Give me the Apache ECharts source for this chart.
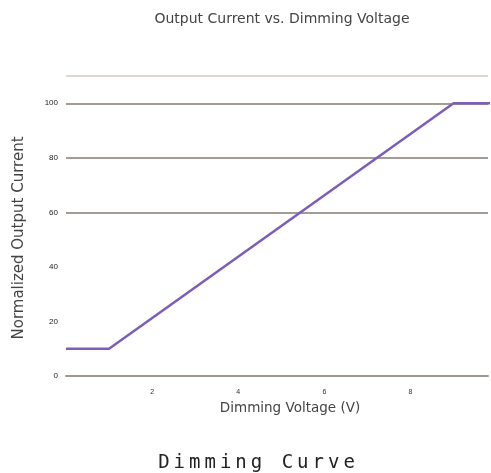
<!DOCTYPE html>
<html><head><meta charset="utf-8">
<script src="https://cdn.jsdelivr.net/npm/echarts@6/dist/echarts.min.js"></script>
<style>
html,body{margin:0;padding:0;background:#fff}
#wrap{position:relative;width:491px;height:473px}
#c{width:491px;height:473px}
#cap{position:absolute;left:0;width:517px;top:449px;text-align:center;font-family:'DejaVu Sans Mono',monospace;font-size:19px;letter-spacing:4px;color:#222;line-height:24px}
</style>
</head><body><div id="wrap"><div id="c"></div><div id="cap"></div></div>
<script>
const voltage = [0, 1, 9, 10];
const current = [10, 10, 100, 100];
const xTickLabels = ['2', '4', '6', '8'];
const yTickLabels = ['0', '20', '40', '60', '80', '100'];
const chartTitle = 'Output Current vs. Dimming Voltage';
const xName = 'Dimming Voltage (V)';
const yName = 'Normalized Output Current';
const caption = 'Dimming Curve';

document.getElementById('cap').textContent = caption;

const chart = echarts.init(document.getElementById('c'));
chart.setOption({
  animation: false,
  title: [
    { text: chartTitle, left: 277, top: 7, textAlign: 'center',
      textStyle: { fontSize: 14, fontWeight: 'normal', color: '#444', fontFamily: 'DejaVu Sans' } }
  ],
  grid: { left: 66, top: 76, right: 3, height: 300 },
  xAxis: {
    type: 'value', min: 0, max: 9.8, interval: 2,
    name: xName, nameLocation: 'middle', nameGap: 25,
    nameTextStyle: { fontSize: 13.5, color: '#444', fontFamily: 'DejaVu Sans', padding: [0, 0, 0, 26] },
    axisLine: { show: true, lineStyle: { color: '#a09890', width: 2 } },
    axisTick: { show: false },
    splitLine: { show: false },
    axisLabel: {
      fontSize: 7, color: '#333', margin: 13,
      formatter: v => (xTickLabels.indexOf(String(v)) >= 0 ? String(v) : '')
    }
  },
  yAxis: {
    type: 'value', min: 0, max: 110, interval: 20,
    name: yName, nameLocation: 'middle', nameGap: 39, nameRotate: 90,
    nameTextStyle: { fontSize: 15, color: '#444', fontFamily: 'DejaVu Sans', padding: [0, 24, 0, 0] },
    axisLine: { show: false },
    axisTick: { show: false },
    axisLabel: {
      fontSize: 8, color: '#222', margin: 8,
      formatter: v => (yTickLabels.indexOf(String(v)) >= 0 ? String(v) : '')
    },
    splitLine: {
      show: true,
      lineStyle: { width: 2, color: ['transparent', 'transparent', 'transparent', '#a39b95', '#a39b95', '#a39b95', '#ddd8d0'] }
    }
  },
  series: [{
    type: 'line',
    data: voltage.map((v, i) => [v, current[i]]),
    symbol: 'none',
    clip: true,
    lineStyle: { color: '#7d5cba', width: 2.5 },
    z: 5
  }]
});
</script>
</body></html>
